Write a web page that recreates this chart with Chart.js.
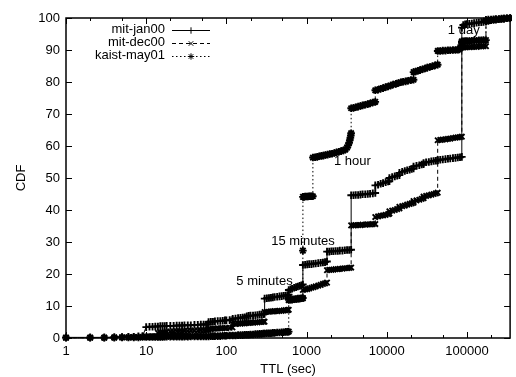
<!DOCTYPE html>
<html><head><meta charset="utf-8">
<script src="https://cdn.jsdelivr.net/npm/chart.js@4"></script>
<style>html,body{margin:0;padding:0;background:#fff}canvas{display:block}</style>
</head><body>
<canvas id="c" width="516" height="377"></canvas>
<script>
const seriesNames = ['mit-jan00', 'mit-dec00', 'kaist-may01'];

const janX = [1,2,3,4,5,6,7,8,9,10,11,12,13,14,15,16,17,18,20,22,24,26,28,30,33,36,40,44,48,52,56,59,60,64,68,72,78,84,90,96,100,110,119,120,130,140,150,160,170,180,190,200,215,230,245,260,275,290,299,300,320,340,360,380,400,430,460,490,520,550,580,599,600,630,660,700,740,780,820,860,899,900,960,1020,1080,1150,1220,1300,1400,1500,1600,1700,1799,1800,1920,2040,2160,2300,2450,2600,2800,3000,3200,3400,3599,3600,3850,4100,4400,4700,5000,5400,5800,6200,6700,7199,7200,7800,8400,9000,9700,10400,10799,10800,11700,12600,13500,14399,14400,15600,16800,18000,19300,20500,21599,21600,23500,25500,27300,28799,28800,31000,33500,36000,38500,41000,43199,43200,46500,50000,54000,58000,62000,67000,72000,77000,82000,86399,86400,90000,95000,100000,107000,115000,123000,132000,141000,151000,161000,172799,172800,185000,200000,215000,230000,250000,270000,290000,315000,345600];
const janY = [0.2,0.2,0.2,0.3,0.3,0.4,0.4,0.5,0.6,3.4,3.5,3.5,3.6,3.6,3.7,3.7,3.7,3.8,3.8,3.8,3.9,3.9,3.9,4.0,4.0,4.0,4.1,4.1,4.2,4.2,4.2,4.3,5.0,5.1,5.1,5.2,5.3,5.3,5.4,5.5,5.5,5.6,5.7,6.0,6.1,6.2,6.3,6.4,6.5,6.8,6.9,7.0,7.0,7.1,7.2,7.3,7.3,7.4,7.5,12.3,12.4,12.5,12.6,12.7,12.8,12.9,13.0,13.1,13.2,13.3,13.4,13.5,15.0,15.2,15.4,15.7,15.9,16.1,16.3,16.5,16.7,22.8,22.9,23.0,23.1,23.1,23.2,23.3,23.4,23.5,23.6,23.7,23.9,27.0,27.0,27.1,27.1,27.2,27.2,27.3,27.3,27.4,27.5,27.5,27.6,44.6,44.6,44.7,44.7,44.8,44.9,44.9,45.0,45.1,45.2,45.3,47.7,47.9,48.2,48.4,48.7,48.9,49.0,50.0,50.3,50.5,50.7,50.9,51.6,51.9,52.2,52.4,52.6,52.8,53.0,53.6,53.8,54.0,54.2,54.3,54.7,54.9,55.0,55.2,55.3,55.4,55.5,55.6,55.7,55.8,55.9,56.0,56.1,56.2,56.3,56.4,56.5,56.6,97.0,97.8,98.0,98.1,98.2,98.3,98.4,98.5,98.6,98.7,98.8,99.0,99.4,99.5,99.5,99.6,99.7,99.7,99.8,99.8,99.9,100];

const decX = [1,2,3,4,5,6,7,8,9,10,11,12,13,14,15,16,17,18,20,22,24,26,28,30,33,36,40,44,48,52,56,59,60,64,68,72,78,84,90,96,100,110,119,120,130,140,150,160,170,180,190,200,215,230,245,260,275,290,299,300,320,340,360,380,400,430,460,490,520,550,580,599,600,630,660,700,740,780,820,860,899,900,960,1020,1080,1150,1220,1300,1400,1500,1600,1700,1799,1800,1920,2040,2160,2300,2450,2600,2800,3000,3200,3400,3599,3600,3850,4100,4400,4700,5000,5400,5800,6200,6700,7199,7200,7800,8400,9000,9700,10400,10799,10800,11700,12600,13500,14399,14400,15600,16800,18000,19300,20500,21599,21600,23500,25500,27300,28799,28800,31000,33500,36000,38500,41000,43199,43200,46500,50000,54000,58000,62000,67000,72000,77000,82000,86399,86400,90000,95000,100000,107000,115000,123000,132000,141000,151000,161000,172799,172800,185000,200000,215000,230000,250000,270000,290000,315000,345600];
const decY = [0.1,0.1,0.1,0.2,0.2,0.2,0.3,0.3,0.3,0.4,0.4,0.5,0.5,1.6,1.7,1.8,1.8,1.9,2.0,2.0,2.1,2.1,2.1,2.2,2.2,2.3,2.3,2.3,2.4,2.4,2.4,2.5,2.8,2.8,2.9,2.9,3.0,3.0,3.1,3.1,3.1,3.2,3.3,4.4,4.4,4.5,4.5,4.6,4.6,4.7,4.7,4.8,4.8,4.9,4.9,5.0,5.0,5.1,5.1,8.1,8.2,8.2,8.3,8.3,8.4,8.4,8.5,8.5,8.6,8.7,8.7,8.8,11.8,11.9,11.9,12.0,12.1,12.2,12.2,12.3,12.4,15.0,15.2,15.3,15.5,15.7,15.9,16.1,16.4,16.6,16.9,17.1,17.3,21.2,21.3,21.3,21.4,21.5,21.5,21.6,21.7,21.8,21.8,21.9,22.0,35.2,35.2,35.3,35.3,35.3,35.4,35.4,35.5,35.5,35.6,35.6,37.8,38.0,38.2,38.3,38.5,38.7,38.9,39.6,39.8,40.0,40.3,40.5,41.0,41.2,41.4,41.7,41.9,42.1,42.3,42.8,43.0,43.2,43.5,43.7,44.2,44.4,44.6,44.8,45.0,45.2,45.4,61.8,61.9,62.0,62.1,62.2,62.3,62.5,62.6,62.7,62.8,62.9,90.8,90.8,90.9,90.9,90.9,91.0,91.0,91.0,91.1,91.1,91.2,91.2,99.2,99.3,99.4,99.5,99.5,99.6,99.7,99.8,99.9,100];

const kaistX = [1,2,3,4,5,6,7,8,9,10,11,12,13,14,15,16,17,18,20,22,24,26,28,30,33,36,40,44,48,52,56,60,64,68,72,78,84,90,96,100,110,120,130,140,150,160,170,180,190,200,215,230,245,260,275,290,300,320,340,360,380,400,430,460,490,520,550,580,599,600,630,660,700,740,780,820,860,899,900,901,930,960,1000,1040,1080,1120,1160,1199,1200,1280,1360,1440,1530,1620,1720,1830,1950,2080,2220,2370,2530,2700,2880,3050,3200,3300,3400,3460,3520,3560,3599,3600,3850,4100,4400,4700,5000,5400,5800,6200,6700,7199,7200,7800,8400,9000,9700,10400,11200,12000,13000,14000,15000,16000,17200,18500,20000,21599,21600,23000,24500,26000,28000,30000,32000,34500,37000,40000,43199,43200,46500,50000,54000,58000,62000,67000,72000,77000,80000,83000,85000,86399,86400,90000,95000,100000,107000,115000,123000,132000,141000,151000,161000,172799,172800,185000,200000,215000,230000,250000,270000,290000,315000,345600];
const kaistY = [0.1,0.1,0.1,0.1,0.2,0.2,0.2,0.2,0.3,0.3,0.3,0.3,0.3,0.3,0.3,0.3,0.4,0.4,0.4,0.4,0.4,0.4,0.4,0.4,0.4,0.5,0.5,0.5,0.5,0.5,0.5,0.5,0.6,0.6,0.6,0.6,0.6,0.7,0.7,0.7,0.8,0.8,0.8,0.9,0.9,0.9,1.0,1.0,1.0,1.1,1.1,1.2,1.2,1.3,1.3,1.4,1.4,1.5,1.5,1.5,1.6,1.6,1.7,1.7,1.8,1.8,1.9,1.9,2.0,11.9,12.0,12.0,12.1,12.2,12.3,12.3,12.4,12.5,27.3,44.1,44.1,44.2,44.2,44.2,44.3,44.3,44.3,44.3,56.4,56.5,56.6,56.8,56.9,57.0,57.2,57.3,57.5,57.6,57.8,58.0,58.2,58.4,58.6,58.9,59.5,60.2,61.0,61.8,62.6,63.3,64.0,71.8,71.9,72.1,72.3,72.5,72.7,72.9,73.1,73.3,73.6,73.8,77.4,77.6,77.9,78.1,78.4,78.6,78.9,79.2,79.4,79.7,79.9,80.1,80.2,80.4,80.6,80.7,83.1,83.3,83.5,83.7,84.0,84.2,84.5,84.7,84.9,85.2,85.4,89.7,89.7,89.8,89.8,89.9,89.9,90.0,90.0,90.1,90.2,90.6,91.5,92.5,92.7,92.7,92.8,92.8,92.8,92.9,92.9,92.9,93.0,93.0,93.1,93.1,99.0,99.1,99.3,99.4,99.5,99.6,99.7,99.8,99.9,100];

const xRange = [1, 345600];
const xTickValues = [1, 10, 100, 1000, 10000, 100000];
const xTickLabels = ['1', '10', '100', '1000', '10000', '100000'];
const xMinorTicks = [2, 5, 20, 50, 200, 500, 2000, 5000, 20000, 50000, 200000];
const yTickValues = [0, 10, 20, 30, 40, 50, 60, 70, 80, 90, 100];
const yTickLabels = ['0', '10', '20', '30', '40', '50', '60', '70', '80', '90', '100'];
const xTitle = 'TTL (sec)';
const yTitle = 'CDF';
const noteTexts = ['5 minutes', '15 minutes', '1 hour', '1 day'];
const noteX = [133, 362, 2198, 57800];
const noteY = [17.8, 30.1, 55.1, 96.25];

const FONT = {family: '"Liberation Sans", Arial, Helvetica, sans-serif', size: 13};
const toPts = (xs, ys) => xs.map((x, i) => ({x: x, y: ys[i]}));

const styles = [
  {dash: [], point: 'cross'},
  {dash: [4, 3], point: 'crossRot'},
  {dash: [1.5, 2.5], point: 'star'}
];
const seriesData = [toPts(janX, janY), toPts(decX, decY), toPts(kaistX, kaistY)];
const PR = 3.8;

const datasets = seriesNames.map((name, i) => ({
  label: name,
  data: seriesData[i],
  borderColor: '#000',
  backgroundColor: '#000',
  borderWidth: 1,
  borderDash: styles[i].dash,
  pointStyle: styles[i].point,
  pointRadius: PR,
  pointBorderWidth: 1.9,
  pointBorderColor: '#000',
  pointBackgroundColor: '#000',
  tension: 0,
  fill: false,
  clip: {left: 6, right: 2, top: 6, bottom: 6}
}));

const framePlugin = {
  id: 'frame',
  afterDatasetsDraw(chart) {
    const {ctx, chartArea: a, scales: {x, y}} = chart;
    ctx.save();
    ctx.strokeStyle = '#000';
    ctx.lineWidth = 1;
    ctx.setLineDash([]);
    ctx.beginPath();
    xTickValues.forEach(v => {
      const px = Math.round(x.getPixelForValue(v)) + 0.5;
      ctx.moveTo(px, a.bottom); ctx.lineTo(px, a.bottom - 6);
      ctx.moveTo(px, a.top); ctx.lineTo(px, a.top + 6);
    });
    xMinorTicks.forEach(v => {
      if (v > xRange[1]) return;
      const px = Math.round(x.getPixelForValue(v)) + 0.5;
      ctx.moveTo(px, a.bottom); ctx.lineTo(px, a.bottom - 3);
      ctx.moveTo(px, a.top); ctx.lineTo(px, a.top + 3);
    });
    yTickValues.forEach(v => {
      const py = Math.round(y.getPixelForValue(v)) + 0.5;
      ctx.moveTo(a.left, py); ctx.lineTo(a.left + 6, py);
      ctx.moveTo(a.right, py); ctx.lineTo(a.right - 6, py);
    });
    ctx.stroke();
    ctx.lineWidth = 1.5;
    ctx.strokeRect(a.left, a.top, a.right - a.left, a.bottom - a.top);
    ctx.restore();
  },
  afterDraw(chart) {
    const {ctx, scales: {x, y}} = chart;
    ctx.save();
    ctx.fillStyle = '#000';
    ctx.font = FONT.size + 'px ' + FONT.family;
    ctx.textBaseline = 'middle';
    ctx.textAlign = 'left';
    noteTexts.forEach((t, i) => {
      ctx.fillText(t, x.getPixelForValue(noteX[i]), y.getPixelForValue(noteY[i]));
    });
    const rowY = [29.5, 42.5, 55.5];
    chart.data.datasets.forEach((ds, i) => {
      const ty = rowY[i];
      ctx.textAlign = 'right';
      ctx.fillStyle = '#000';
      ctx.fillText(ds.label, 165, ty);
      ctx.strokeStyle = '#000';
      ctx.lineWidth = 1;
      ctx.setLineDash(ds.borderDash);
      ctx.beginPath();
      ctx.moveTo(172, Math.round(ty) + 0.5);
      ctx.lineTo(210, Math.round(ty) + 0.5);
      ctx.stroke();
      ctx.setLineDash([]);
      Chart.helpers.drawPoint(ctx, {pointStyle: ds.pointStyle, radius: 3.2, borderWidth: 1, rotation: 0}, 191, Math.round(ty) + 0.5);
    });
    ctx.restore();
  }
};

new Chart(document.getElementById('c'), {
  type: 'line',
  data: {datasets: datasets},
  options: {
    responsive: false,
    devicePixelRatio: 1,
    animation: false,
    layout: {padding: {top: 18, right: 1, left: 0, bottom: 0}},
    plugins: {legend: {display: false}, tooltip: {enabled: false}},
    scales: {
      x: {
        type: 'logarithmic',
        min: xRange[0],
        max: xRange[1],
        afterBuildTicks: s => { s.ticks = xTickValues.map(v => ({value: v})); },
        afterFit: s => { s.height = 39; },
        ticks: {
          color: '#000', font: FONT, padding: 6, maxRotation: 0, autoSkip: false,
          callback: (v) => { const k = xTickValues.indexOf(v); return k >= 0 ? xTickLabels[k] : ''; }
        },
        grid: {display: false, drawTicks: false},
        border: {display: false},
        title: {display: true, text: xTitle, color: '#000', font: FONT, padding: {top: 0, bottom: 0}}
      },
      y: {
        type: 'linear',
        min: 0,
        max: 100,
        afterBuildTicks: s => { s.ticks = yTickValues.map(v => ({value: v})); },
        afterFit: s => { s.width = 66; },
        ticks: {
          color: '#000', font: FONT, padding: 6, autoSkip: false,
          callback: (v) => { const k = yTickValues.indexOf(v); return k >= 0 ? yTickLabels[k] : ''; }
        },
        grid: {display: false, drawTicks: false},
        border: {display: false},
        title: {display: true, text: yTitle, color: '#000', font: FONT, padding: {top: 14, bottom: 0}}
      }
    }
  },
  plugins: [framePlugin]
});
</script>
</body></html>
